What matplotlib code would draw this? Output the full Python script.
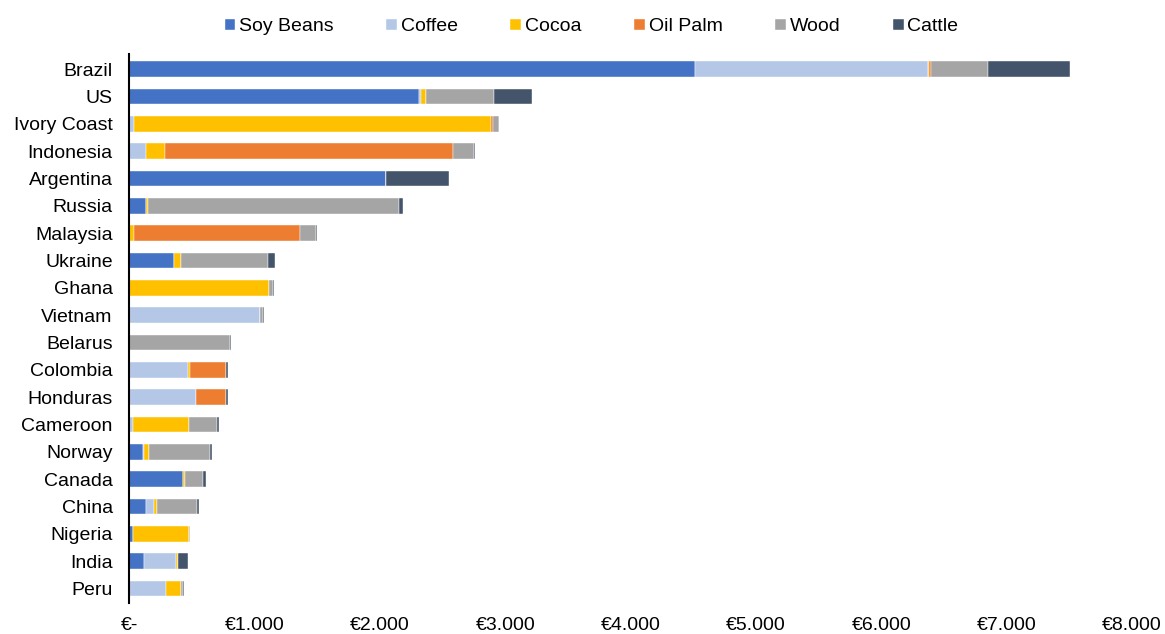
import numpy as np
import matplotlib.pyplot as plt

plt.rcParams['font.family'] = ['Liberation Sans', 'DejaVu Sans']

countries = ['Brazil', 'US', 'Ivory Coast', 'Indonesia', 'Argentina', 'Russia',
             'Malaysia', 'Ukraine', 'Ghana', 'Vietnam', 'Belarus', 'Colombia',
             'Honduras', 'Cameroon', 'Norway', 'Canada', 'China', 'Nigeria',
             'India', 'Peru']

soy    = [4511, 2310,    0,    0, 2052, 133,    0, 356,    0,    0,   0,   0,   0,   0, 107, 428, 133,  27, 117,   0]
coffee = [1858,   20,   35,  133,    0,   0,    0,   0,    0, 1045,   0, 465, 535,  27,   8,   0,  64,   0, 255, 293]
cocoa  = [  15,   40, 2847,  152,    0,  20,   37,  56, 1117,    0,   0,  16,   0, 452,  40,  19,  27, 446,  19, 122]
palm   = [  10,    0,   18, 2294,    0,   0, 1327,   0,    0,    0,   0, 288, 239,   0,   0,   0,   0,   0,   0,   0]
wood   = [ 454,  538,   51,  170,    0, 1996, 122, 694,   26,   18, 803,   0,   0, 223, 489, 141, 318,   8,   0,  16]
cattle = [ 654,  303,    0,    8,  500,  34,    8,  53,   10,    8,   8,  16,  10,  11,  18,  26,  11,   0,  74,   8]

series = ['Soy Beans', 'Coffee', 'Cocoa', 'Oil Palm', 'Wood', 'Cattle']
colors = ['#4472C4', '#B4C7E7', '#FFC000', '#ED7D31', '#A5A5A5', '#44546A']
data = [soy, coffee, cocoa, palm, wood, cattle]

fig = plt.figure(figsize=(11.65, 6.34), dpi=100)
ax = fig.add_axes([129.3 / 1165, 31 / 634, (1132 - 129.3) / 1165, (580 - 31) / 634])

y = np.arange(len(countries))
left = np.zeros(len(countries))
for name, vals, c in zip(series, data, colors):
    vals = np.array(vals, dtype=float)
    ax.barh(y, vals, left=left, height=0.57, color=c, label=name,
            edgecolor='white', linewidth=0.3)
    left += vals

ax.set_yticks(y)
ax.set_yticklabels(countries, fontsize=14)
ax.set_ylim(len(countries) - 0.5 + 0.03, -0.55)
ax.set_xlim(0, 8000)
ticks = np.arange(0, 8001, 1000)
ax.set_xticks(ticks)
ax.set_xticklabels(['€-'] + ['€{:,}'.format(t).replace(',', '.') for t in ticks[1:]], fontsize=14)
ax.tick_params(axis='both', length=0)
ax.tick_params(axis='x', pad=10)
ax.tick_params(axis='y', pad=12)

for s in ['top', 'right', 'bottom']:
    ax.spines[s].set_visible(False)
ax.spines['left'].set_color('black')
ax.spines['left'].set_linewidth(1.5)

ax.legend(loc='upper center', bbox_to_anchor=(0.461, 1.097), ncol=6,
          frameon=False, fontsize=14, handlelength=0.55, handleheight=0.55,
          handletextpad=0.2, columnspacing=2.7)

fig.savefig('out.png', dpi=100)
